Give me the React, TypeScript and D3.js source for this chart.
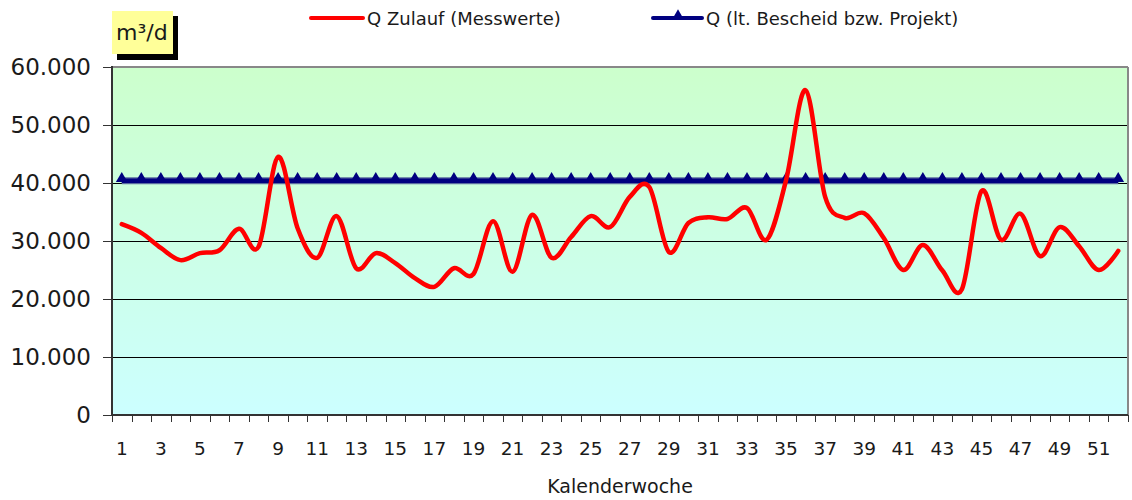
import React from "react";
import * as d3 from "d3";

const weeks: number[] = Array.from({ length: 52 }, (_, i) => i + 1);
const zulauf: number[] = [
  32900, 31400, 28800, 26700, 27900, 28400, 32100, 29000, 44500, 32200,
  27100, 34300, 25300, 27900, 26200, 23600, 22100, 25300, 24300, 33400,
  24700, 34500, 27100, 30700, 34300, 32400, 37600, 39300, 28100, 33100,
  34100, 33800, 35700, 30200, 40500, 56000, 37600, 34000, 34800, 30500,
  25000, 29300, 24900, 21700, 38600, 30200, 34700, 27400, 32400, 29100,
  25000, 28300,
];
const bescheidValue = 40400;
const bescheid: number[] = weeks.map(() => bescheidValue);
const yTicks: number[] = [0, 10000, 20000, 30000, 40000, 50000, 60000];
const xLabels: number[] = weeks.filter((w) => w % 2 === 1);
const seriesNames: string[] = ["Q Zulauf (Messwerte)", "Q (lt. Bescheid bzw. Projekt)"];
const unitLabel = "m³/d";
const xTitle = "Kalenderwoche";

const W = 1132;
const H = 500;
const L = 112;
const R = 1128;
const T = 67;
const B = 415;
const FONT = "'DejaVu Sans', sans-serif";
const TXT = "#1a1a1a";

const deLocale = d3.formatLocale({
  decimal: ",",
  thousands: ".",
  grouping: [3],
  currency: ["", "€"],
});
const fmt = deLocale.format(",d");

export default function App() {
  const x = d3.scalePoint<number>().domain(weeks).range([L, R]).padding(0.5);
  const step = x.step();
  const y = d3.scaleLinear().domain([0, 60000]).range([B, T]);

  const redLine = d3
    .line<number>()
    .x((_, i) => x(weeks[i]) as number)
    .y((d) => y(d))
    .curve(d3.curveCardinal.tension(0));
  const blueLine = d3
    .line<number>()
    .x((_, i) => x(weeks[i]) as number)
    .y((d) => y(d));

  const tri = d3.symbol().type(d3.symbolTriangle).size(60);
  const boundaries = d3.range(weeks.length + 1).map((k) => Math.round(L + k * step) + 0.5);

  return (
    <svg
      width={W}
      height={H}
      style={{ position: "absolute", left: 0, top: 0, background: "#fff" }}
      fontFamily={FONT}
    >
      <defs>
        <linearGradient id="bg" x1="0" y1="0" x2="0" y2="1">
          <stop offset="0" stopColor="#ccffcc" />
          <stop offset="1" stopColor="#ccffff" />
        </linearGradient>
      </defs>

      {/* unit box */}
      <rect x={117} y={16} width={61} height={44} fill="#000" />
      <rect x={112} y={11} width={61} height={43} fill="#ffff99" />
      <text x={116} y={40} fontSize={22} fill={TXT}>
        {unitLabel}
      </text>

      {/* legend */}
      <line x1={311} x2={363} y1={18} y2={18} stroke="#ff0000" strokeWidth={4} strokeLinecap="round" />
      <text x={367} y={25} fontSize={18} fill={TXT}>
        {seriesNames[0]}
      </text>
      <line x1={653} x2={702} y1={18} y2={18} stroke="#000080" strokeWidth={4} strokeLinecap="round" />
      <path d={tri() as string} transform="translate(678,16)" fill="#000080" />
      <text x={706} y={25} fontSize={18} fill={TXT}>
        {seriesNames[1]}
      </text>

      {/* plot area */}
      <rect x={L} y={T} width={R - L} height={B - T} fill="url(#bg)" />
      {yTicks
        .filter((t) => t > 0 && t < 60000)
        .map((t) => (
          <line key={t} x1={L} x2={R} y1={y(t) + 0.5} y2={y(t) + 0.5} stroke="#000" strokeWidth={1} />
        ))}
      <line x1={L} x2={R} y1={T} y2={T} stroke="#888" strokeWidth={2} />
      <line x1={R} x2={R} y1={T} y2={B} stroke="#888" strokeWidth={2} />

      {/* series */}
      <path d={blueLine(bescheid) as string} fill="none" stroke="#5a6aa0" strokeWidth={7} />
      <path d={blueLine(bescheid) as string} fill="none" stroke="#000080" strokeWidth={4.5} />
      {bescheid.map((v, i) => (
        <path
          key={i}
          d={tri() as string}
          transform={`translate(${x(weeks[i])},${y(v) - 2})`}
          fill="#000080"
        />
      ))}
      <path
        d={redLine(zulauf) as string}
        fill="none"
        stroke="#ff0000"
        strokeWidth={4.5}
        strokeLinejoin="round"
        strokeLinecap="round"
      />

      {/* axes */}
      <line x1={L} x2={L} y1={T - 1} y2={B + 1} stroke="#333" strokeWidth={2} />
      <line x1={L} x2={R} y1={B} y2={B} stroke="#333" strokeWidth={2} />
      {yTicks.map((t) => (
        <g key={t}>
          <line x1={103} x2={L} y1={y(t) + 0.5} y2={y(t) + 0.5} stroke="#333" strokeWidth={1} />
          <text x={91} y={y(t) + 8} textAnchor="end" fontSize={23} fill={TXT}>
            {fmt(t)}
          </text>
        </g>
      ))}
      {boundaries.map((bx, k) => (
        <line key={k} x1={bx} x2={bx} y1={B} y2={B + 7} stroke="#333" strokeWidth={1} />
      ))}
      {xLabels.map((w) => (
        <text key={w} x={x(w)} y={455} textAnchor="middle" fontSize={18.5} fill={TXT}>
          {w}
        </text>
      ))}
      <text x={620} y={493} textAnchor="middle" fontSize={19} fill={TXT}>
        {xTitle}
      </text>
    </svg>
  );
}
